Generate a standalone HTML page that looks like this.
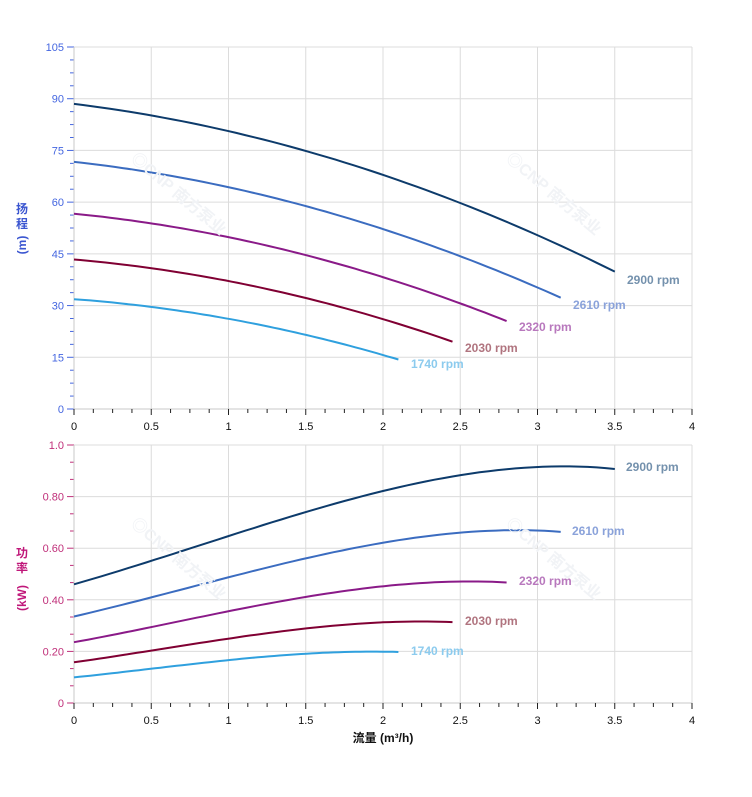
<!DOCTYPE html>
<html><head><meta charset="utf-8"><style>
body{margin:0;background:#fff}
svg{display:block;font-family:"Liberation Sans","Noto Sans CJK SC",sans-serif}
</style></head><body>
<svg id="s" width="752" height="797" xmlns="http://www.w3.org/2000/svg"></svg>
<script>
var s=document.getElementById('s'),h='';
var X0=74,XS=154.5;
function px(q){return X0+q*XS}
var sp=[[1,'#0d3b6b','#7491ad','2900'],[0.9,'#3b6cc0','#8aa2da','2610'],[0.8,'#8a1a88','#b878bd','2320'],[0.7,'#800033','#b0747f','2030'],[0.6,'#2fa0de','#8ccbee','1740']];
function chart(top,bot,max,nmaj,fmt,tcol,minor){
  var i,y;
  for(i=0;i<=8;i++){var x=px(i*0.5);h+='<line x1="'+x+'" y1="'+top+'" x2="'+x+'" y2="'+bot+'" stroke="#dcdcdc"/>';}
  for(i=0;i<=nmaj;i++){y=bot-(bot-top)*i/nmaj;h+='<line x1="'+X0+'" y1="'+y+'" x2="692" y2="'+y+'" stroke="#dcdcdc"/>';
    h+='<line x1="67" y1="'+y+'" x2="'+X0+'" y2="'+y+'" stroke="'+tcol+'"/>';
    h+='<text x="64" y="'+(y+4)+'" text-anchor="end" font-size="11" fill="'+tcol+'">'+fmt(i)+'</text>';}
  var step=(bot-top)/nmaj/minor;
  for(i=0;i<nmaj*minor;i++){if(i%minor==0)continue;y=bot-step*i;h+='<line x1="70" y1="'+y+'" x2="'+X0+'" y2="'+y+'" stroke="'+tcol+'"/>';}
  h+='<line x1="'+X0+'" y1="'+top+'" x2="'+X0+'" y2="'+bot+'" stroke="#c8c8c8"/>';
  h+='<line x1="'+X0+'" y1="'+bot+'" x2="692" y2="'+bot+'" stroke="#c8c8c8"/>';
  for(i=0;i<=32;i++){var x=px(i*0.125);h+='<line x1="'+x+'" y1="'+bot+'" x2="'+x+'" y2="'+(bot+(i%4==0?6:4))+'" stroke="#222"/>';}
  var lab=['0','0.5','1','1.5','2','2.5','3','3.5','4'];
  for(i=0;i<=8;i++)h+='<text x="'+px(i*0.5)+'" y="'+(bot+21)+'" text-anchor="middle" font-size="11" fill="#111">'+lab[i]+'</text>';
}
chart(47,409,105,7,function(i){return ''+(i*15)},'#4466e0',4);
chart(445,703,1,5,function(i){return ['0','0.20','0.40','0.60','0.80','1.0'][i]},'#c0307a',3);
function H(q,r){return 88.5*r*r-5.5*r*q-2.4*q*q}
function P(q,r){return 0.46*r*r*r+0.171*q*r*r+0.027*q*q*r-0.011*q*q*q-0.0035*Math.pow(q/3.5,6)*3}
var lt=[[627,284],[573,309],[519,331],[465,352],[411,368]];
var lb=[[626,471],[572,535],[519,585],[465,625],[411,655]];
sp.forEach(function(c,k){
  var r=c[0],qe=3.5*r,d1='',d2='';
  for(var j=0;j<=60;j++){var q=qe*j/60;
    d1+=(j?'L':'M')+px(q).toFixed(1)+','+(409-H(q,r)*362/105).toFixed(1);
    d2+=(j?'L':'M')+px(q).toFixed(1)+','+(703-P(q,r)*258).toFixed(1);}
  h+='<path d="'+d1+'" fill="none" stroke="'+c[1]+'" stroke-width="2"/>';
  h+='<path d="'+d2+'" fill="none" stroke="'+c[1]+'" stroke-width="2"/>';
  h+='<text x="'+lt[k][0]+'" y="'+lt[k][1]+'" font-size="12" font-weight="bold" fill="'+c[2]+'">'+c[3]+' rpm</text>';
  h+='<text x="'+lb[k][0]+'" y="'+lb[k][1]+'" font-size="12" font-weight="bold" fill="'+c[2]+'">'+c[3]+' rpm</text>';
});
h+='<text x="22" y="213" text-anchor="middle" font-size="12" font-weight="bold" fill="#3a55d0">扬</text>';
h+='<text x="22" y="228" text-anchor="middle" font-size="12" font-weight="bold" fill="#3a55d0">程</text>';
h+='<text transform="translate(26,245) rotate(-90)" text-anchor="middle" font-size="12" font-weight="bold" fill="#3a55d0">(m)</text>';
h+='<text x="22" y="557" text-anchor="middle" font-size="12" font-weight="bold" fill="#c0187a">功</text>';
h+='<text x="22" y="572" text-anchor="middle" font-size="12" font-weight="bold" fill="#c0187a">率</text>';
h+='<text transform="translate(26,598) rotate(-90)" text-anchor="middle" font-size="12" font-weight="bold" fill="#c0187a">(kW)</text>';
h+='<text x="383" y="742" text-anchor="middle" font-size="12" font-weight="bold" fill="#111">流量 (m³/h)</text>';
[[130,160],[505,160],[130,525],[505,525]].forEach(function(p){
  h+='<text transform="translate('+p[0]+','+p[1]+') rotate(40)" font-size="16" font-weight="bold" fill="#f1f3f6">◎CNP 南方泵业</text>';});
s.innerHTML=h;
</script>
</body></html>
